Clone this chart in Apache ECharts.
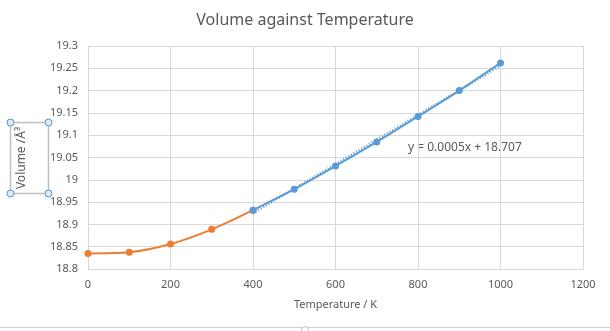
<!DOCTYPE html>
<html>
<head>
<meta charset="utf-8">
<script src="https://cdn.jsdelivr.net/npm/echarts@6/dist/echarts.min.js"></script>
<style>
html,body{margin:0;padding:0;background:#fff;}
#c{width:610px;height:331px;}
</style>
</head>
<body>
<div id="c"></div>
<script>
const lowTemps = [0, 100, 200, 300, 400];
const lowVolumes = [18.835, 18.8375, 18.856, 18.889, 18.932];
const highTemps = [400, 500, 600, 700, 800, 900, 1000];
const highVolumes = [18.932, 18.979, 19.031, 19.085, 19.142, 19.2, 19.262];
const trendLabel = 'y = 0.0005x + 18.707';
const xTicks = [0, 200, 400, 600, 800, 1000, 1200];
const yTicks = [18.8, 18.85, 18.9, 18.95, 19, 19.05, 19.1, 19.15, 19.2, 19.25, 19.3];

// linear regression on the high-temperature data (trendline)
const n = highTemps.length;
const mx = highTemps.reduce((a, b) => a + b, 0) / n;
const my = highVolumes.reduce((a, b) => a + b, 0) / n;
let sxy = 0, sxx = 0;
for (let i = 0; i < n; i++) { sxy += (highTemps[i] - mx) * (highVolumes[i] - my); sxx += (highTemps[i] - mx) ** 2; }
const slope = sxy / sxx, icpt = my - slope * mx;
const trendX = [highTemps[0], highTemps[n - 1]];
const trend = trendX.map(x => [x, icpt + slope * x]);

const font = 'Noto Sans';
const txt = '#595959';
const chart = echarts.init(document.getElementById('c'));
chart.setOption({
  animation: false,
  textStyle: { fontFamily: font },
  title: {
    text: 'Volume against Temperature', left: 'center', top: 7,
    textStyle: { fontFamily: font, fontSize: 16, fontWeight: 'normal', color: txt }
  },
  grid: { left: 88, right: 27, top: 46, bottom: 62 },
  xAxis: {
    type: 'value', min: xTicks[0], max: xTicks[xTicks.length - 1], interval: 200,
    name: 'Temperature / K', nameLocation: 'middle', nameGap: 30,
    nameTextStyle: { fontFamily: font, fontSize: 11, color: txt },
    axisLine: { show: true, lineStyle: { color: '#d9d9d9' } },
    axisTick: { show: false },
    axisLabel: { fontFamily: font, fontSize: 11, color: txt, margin: 10,
      formatter: v => String(v) },
    splitLine: { show: true, lineStyle: { color: '#d9d9d9' } }
  },
  yAxis: {
    type: 'value', min: yTicks[0], max: yTicks[yTicks.length - 1], interval: 0.05,
    axisLine: { show: false },
    axisTick: { show: false },
    axisLabel: { fontFamily: font, fontSize: 11, color: txt, margin: 10,
      formatter: v => String(+v.toFixed(2)) },
    splitLine: { show: true, lineStyle: { color: '#d9d9d9' } }
  },
  series: [
    { type: 'line', smooth: 0.3, data: lowTemps.map((x, i) => [x, lowVolumes[i]]),
      symbol: 'circle', symbolSize: 7, lineStyle: { color: '#ED7D31', width: 2 },
      itemStyle: { color: '#ED7D31' }, z: 3 },
    { type: 'line', data: trend, symbol: 'none',
      lineStyle: { color: '#5B9BD5', width: 2.5, type: [1, 2] }, z: 2 },
    { type: 'line', smooth: 0.3, data: highTemps.map((x, i) => [x, highVolumes[i]]),
      symbol: 'circle', symbolSize: 7, lineStyle: { color: '#5B9BD5', width: 2 },
      itemStyle: { color: '#5B9BD5' }, z: 4 }
  ],
  graphic: [
    { type: 'rect', shape: { x: 10.5, y: 122.5, width: 38, height: 71 },
      style: { fill: 'none', stroke: '#bfbfbf', lineWidth: 1.5 } },
    { type: 'text', x: 22, y: 158, rotation: Math.PI / 2,
      style: { text: 'Volume /Å³', fontFamily: font, fontSize: 12, fill: txt,
        textAlign: 'center', textVerticalAlign: 'middle' } },
    ...[[10.5, 122.5], [48.5, 122.5], [10.5, 193.5], [48.5, 193.5]].map(p => ({
      type: 'circle', shape: { cx: p[0], cy: p[1], r: 3.5 },
      style: { fill: '#dcebf7', stroke: '#5b8fc7', lineWidth: 1 }, z: 10 })),
    { type: 'text', x: 408, y: 148,
      style: { text: trendLabel, fontFamily: font, fontSize: 12, fill: txt,
        textAlign: 'left', textVerticalAlign: 'middle' } },
    { type: 'line', shape: { x1: 0, y1: 327.5, x2: 610, y2: 327.5 },
      style: { stroke: '#d0d0d0', lineWidth: 1 } },
    { type: 'circle', shape: { cx: 305, cy: 330, r: 3.5 },
      style: { fill: '#fff', stroke: '#c0c0c0', lineWidth: 1 } }
  ]
});
</script>
</body>
</html>
